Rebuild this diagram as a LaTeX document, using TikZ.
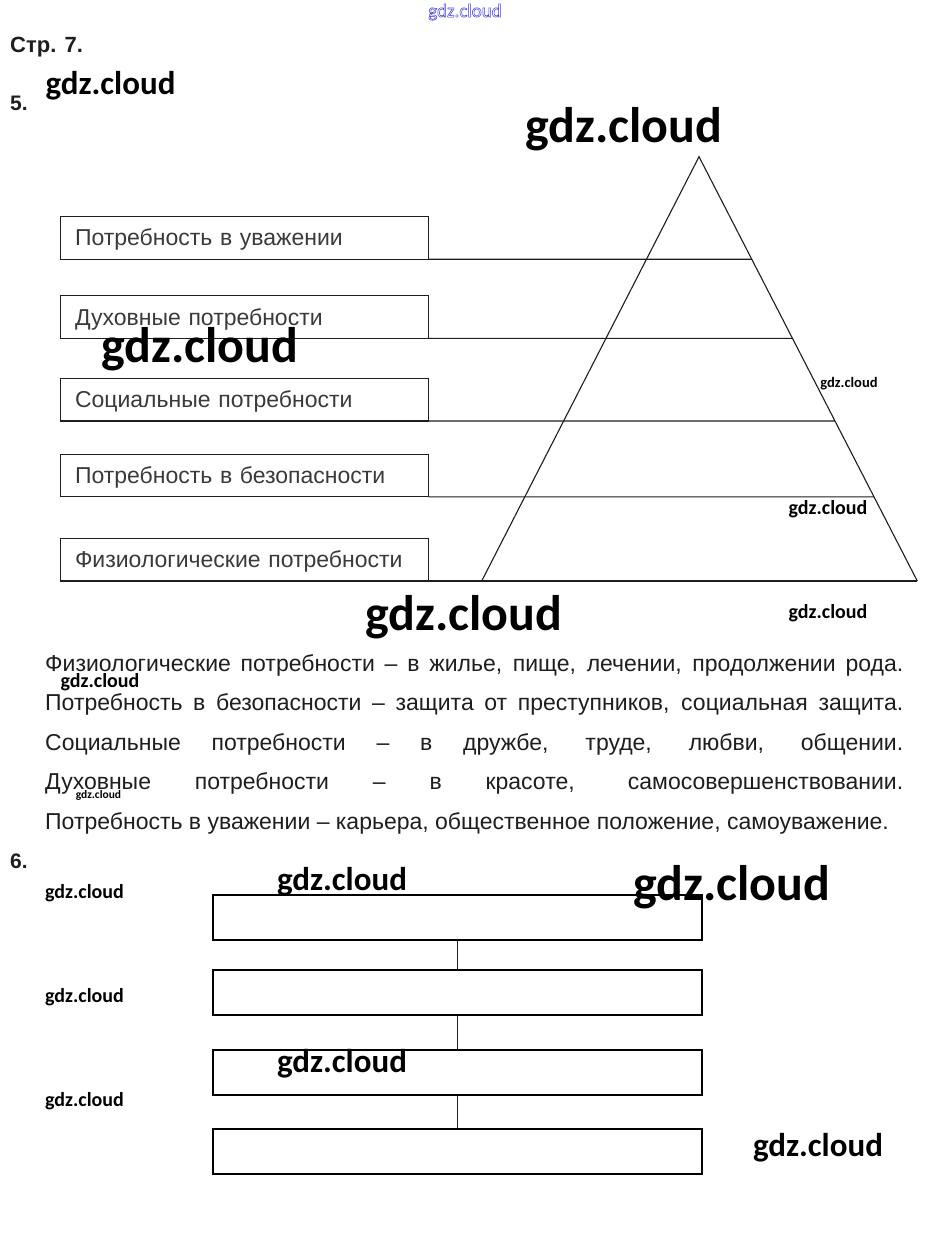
\documentclass[tikz,border=0pt]{standalone}
\usepackage{fontspec}
\setmainfont{Liberation Sans}
\newfontfamily\wmfont{Carlito}
\usetikzlibrary{positioning,calc}
\definecolor{ink}{HTML}{1E1E1E}
\definecolor{boxtxt}{HTML}{3A3A3A}
\definecolor{wmblue}{HTML}{3A3AD8}
\tikzset{
  lvl/.style={draw=ink, line width=1.2pt, anchor=north west, minimum height=42.5pt, outer sep=0pt,
              inner xsep=14.5pt, text width=339pt, align=left, text height=16pt, text depth=0pt,
              font=\fontsize{23}{27}\selectfont, text=boxtxt},
  pyr/.style={draw=ink, line width=1.1pt},
  stackbox/.style={draw=black, line width=2pt, anchor=north west, inner sep=0pt,
              minimum width=489pt, minimum height=45pt},
  link/.style={draw=ink, line width=1pt},
  ans/.style={anchor=base west, inner sep=0pt, font=\fontsize{23}{27}\selectfont, text=ink},
  hdr/.style={anchor=base west, inner sep=0pt, font=\bfseries\fontsize{22}{26}\selectfont, text=ink},
  wm/.style={anchor=base, inner sep=0pt, font=\wmfont\bfseries\fontsize{#1}{#1}\selectfont, text=black},
}

\begin{document}
\begin{tikzpicture}[x=1pt, y=-1pt]
  \useasboundingbox[fill=white] (0,0) rectangle (931,1254);
  % headings
  \node[hdr] (page) at (10,52) {Стр. 7.};
  \node[hdr, font=\bfseries\fontsize{21}{25}\selectfont] (task5) at (10,110) {5.};
  \node[hdr, font=\bfseries\fontsize{21}{25}\selectfont] (task6) at (10,868) {6.};
  % pyramid of needs
  \node[lvl] (uvaz) at (60.5,216.7) {Потребность в уважении};
  \node[lvl] (duh)  at (60.5,295.8) {Духовные потребности};
  \node[lvl] (soc)  at (60.5,378.5) {Социальные потребности};
  \node[lvl] (bez)  at (60.5,454.3) {Потребность в безопасности};
  \node[lvl] (fiz)  at (60.5,538.5) {Физиологические потребности};
  \coordinate (apex) at (699,156.7);
  \coordinate (bl) at (481.7,581);
  \coordinate (br) at (917.3,581);
  \draw[pyr] (bl) -- (apex) -- (br);
  \draw[pyr] (fiz.south east) -- (br);
  \foreach \n in {uvaz,duh,soc,bez}
    \draw[pyr] (\n.south east) -- (intersection of apex--br and \n.south east--\n.south west);
  % answer text
  \node[ans] (a1) at (45,671)   {\makebox[858pt][s]{Физиологические потребности – в жилье, пище, лечении, продолжении рода.}};
  \node[ans] (a2) at (45,710.5) {\makebox[858pt][s]{Потребность в безопасности – защита от преступников, социальная защита.}};
  \node[ans] (a3) at (45,750)   {\makebox[858pt][s]{Социальные потребности – в дружбе, труде, любви, общении.}};
  \node[ans] (a4) at (45,789.5) {\makebox[858pt][s]{Духовные потребности – в красоте, самосовершенствовании.}};
  \node[ans] (a5) at (45,829)   {Потребность в уважении – карьера, общественное положение, самоуважение.};
  % empty chain of task 6
  \foreach \i/\y in {1/893.5, 2/969, 3/1049.3, 4/1127.7}
    \node[stackbox] (s\i) at (212,\y) {};
  \foreach \a/\b in {s1/s2, s2/s3, s3/s4} \draw[link] (\a) -- (\b);
  % watermarks
  \node[wm=19, text=wmblue, font=\wmfont\fontsize{19}{19}\selectfont] (wm0) at (465,17)
    {\special{pdf:literal direct 1 Tr 0.5 w}gdz.cloud\special{pdf:literal direct 0 Tr}};
  \node[wm=33] (wm1) at (110.5,94) {gdz.cloud};
  \node[wm=50] (wm2) at (624,142) {gdz.cloud};
  \node[wm=50] (wm3) at (200,362) {gdz.cloud};
  \node[wm=14.5] (wm4) at (849,387) {gdz.cloud};
  \node[wm=20] (wm5) at (828,514) {gdz.cloud};
  \node[wm=50] (wm6) at (464,630) {gdz.cloud};
  \node[wm=20] (wm7) at (828,618) {gdz.cloud};
  \node[wm=20] (wm8) at (100,687) {gdz.cloud};
  \node[wm=11.5] (wm9) at (98.5,798) {gdz.cloud};
  \node[wm=20] (wm10) at (84.5,898) {gdz.cloud};
  \node[wm=33] (wm11) at (342,890) {gdz.cloud};
  \node[wm=50] (wm12) at (732,900) {gdz.cloud};
  \node[wm=20] (wm13) at (84.5,1002) {gdz.cloud};
  \node[wm=33] (wm14) at (342,1072) {gdz.cloud};
  \node[wm=20] (wm15) at (84.5,1106) {gdz.cloud};
  \node[wm=33] (wm16) at (818,1156) {gdz.cloud};
\end{tikzpicture}
\end{document}
